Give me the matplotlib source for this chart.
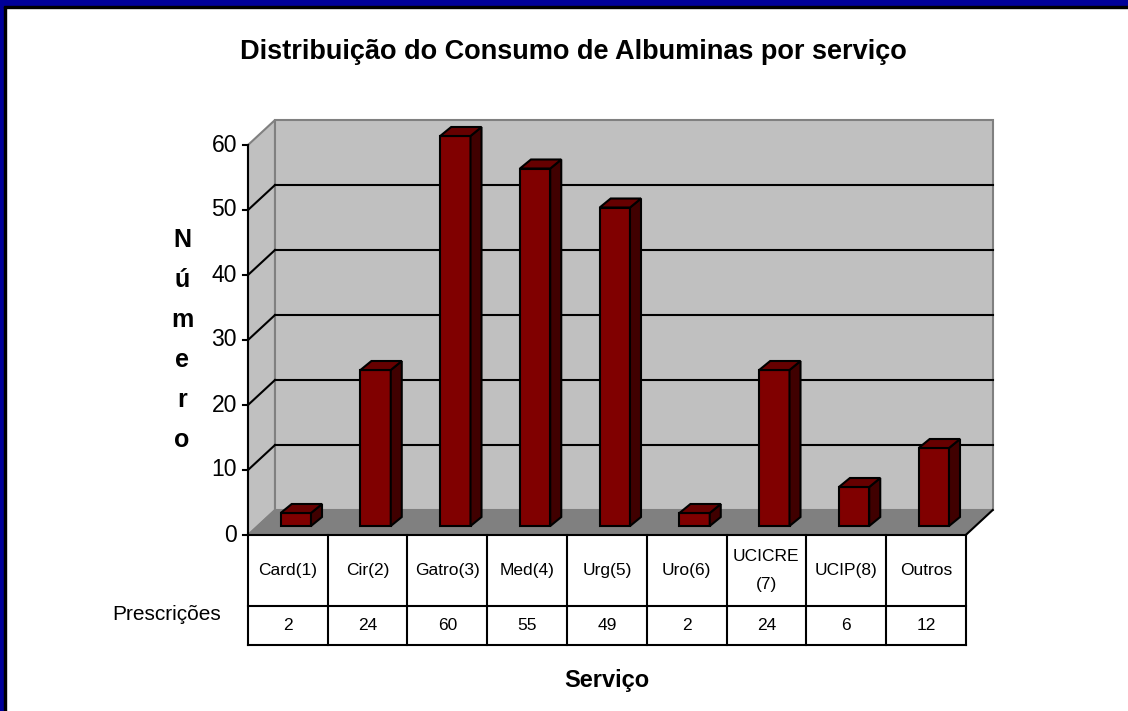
import matplotlib
matplotlib.use('Agg')
import matplotlib.pyplot as plt
from matplotlib.patches import Polygon, Rectangle

plt.rcParams['font.family'] = ['Liberation Sans', 'DejaVu Sans']

# dados do grafico
servicos = ['Card(1)', 'Cir(2)', 'Gatro(3)', 'Med(4)', 'Urg(5)', 'Uro(6)',
            'UCICRE\n(7)', 'UCIP(8)', 'Outros']
prescricoes = [2, 24, 60, 55, 49, 2, 24, 6, 12]
y_ticks = [0, 10, 20, 30, 40, 50, 60]

titulo = 'Distribuição do Consumo de Albuminas por serviço'
eixo_y = 'Número'
eixo_x = 'Serviço'
linha_tabela = 'Prescrições'

# escala em pixeis (figura 1128x711)
W, H = 1128, 711
x0px, cat_px = 248, 79.75
y0px, unit_px = 535, 6.5
n = len(servicos)
ymax = max(y_ticks)

DX, DY = 27 / cat_px, 25 / unit_px      # profundidade das paredes
BZ = 9 / unit_px                        # base das barras
bdx, bdy = 11 / cat_px, 9 / unit_px     # profundidade das barras
bl, bw = 0.41, 0.38                     # posicao/largura da face frontal
row1 = -71 / unit_px
row2 = -110 / unit_px

fig = plt.figure(figsize=(W / 100, H / 100), dpi=100)
ax = fig.add_axes([0, 0, 1, 1])
ax.set_xlim(-x0px / cat_px, (W - x0px) / cat_px)
ax.set_ylim(-(H - y0px) / unit_px, y0px / unit_px)
ax.axis('off')

# moldura azul
fig.patches.append(Rectangle((0, 0), 4 / W, 1, transform=fig.transFigure,
                             color='#000099', zorder=10))
fig.patches.append(Rectangle((4 / W, 0), 2 / W, 1 - 6 / H, transform=fig.transFigure,
                             color='black', zorder=10))
fig.patches.append(Rectangle((0, 1 - 6 / H), 1, 6 / H, transform=fig.transFigure,
                             color='#000099', zorder=10))
fig.patches.append(Rectangle((4 / W, 1 - 7.5 / H), 1, 1.5 / H, transform=fig.transFigure,
                             color='black', zorder=10))

# paredes e chao
ax.add_patch(Polygon([(0, 0), (DX, DY), (DX, ymax + DY), (0, ymax)],
                     facecolor='#C0C0C0', edgecolor='#808080', lw=1.5, zorder=1))
ax.add_patch(Polygon([(DX, DY), (n + DX, DY), (n + DX, ymax + DY), (DX, ymax + DY)],
                     facecolor='#C0C0C0', edgecolor='#808080', lw=1.5, zorder=1))
ax.add_patch(Polygon([(0, 0), (n, 0), (n + DX, DY), (DX, DY)],
                     facecolor='#808080', edgecolor='none', zorder=1))
ax.plot([n, n + DX], [0, DY], color='black', lw=1.5, zorder=2)
ax.plot([0, DX], [0, DY], color='#808080', lw=1.2, zorder=2)

for t in y_ticks[1:-1]:
    ax.plot([DX, n + DX], [t + DY, t + DY], color='black', lw=1.5, zorder=2)
    ax.plot([0, DX], [t, t + DY], color='black', lw=1.5, zorder=2)

# eixo y
ax.plot([0, 0], [0, ymax], color='black', lw=1.5, zorder=3)
for t in y_ticks:
    ax.plot([-5 / cat_px, 0], [t, t], color='black', lw=1.5, zorder=3)
    ax.text(-11 / cat_px, t, str(t), ha='right', va='center', fontsize=16.5)

# barras 3D
for i, v in enumerate(prescricoes):
    xl, xr = i + bl, i + bl + bw
    ax.add_patch(Rectangle((xl, BZ), bw, v, facecolor='#800000',
                           edgecolor='black', lw=1.5, zorder=4))
    ax.add_patch(Polygon([(xr, BZ), (xr + bdx, BZ + bdy), (xr + bdx, BZ + v + bdy), (xr, BZ + v)],
                         facecolor='#400000', edgecolor='black', lw=1.5, zorder=4))
    ax.add_patch(Polygon([(xl, BZ + v), (xr, BZ + v), (xr + bdx, BZ + v + bdy), (xl + bdx, BZ + v + bdy)],
                         facecolor='#660000', edgecolor='black', lw=1.5, zorder=4))

# tabela de dados
for y in [0, row1, row2]:
    ax.plot([0, n], [y, y], color='black', lw=1.5, zorder=3)
for i in range(n + 1):
    ax.plot([i, i], [0, row2], color='black', lw=1.5, zorder=3)
for i, (s, v) in enumerate(zip(servicos, prescricoes)):
    ax.text(i + 0.5, row1 / 2, s, ha='center', va='center', fontsize=12.5,
            linespacing=2.1)
    ax.text(i + 0.5, (row1 + row2) / 2, str(v), ha='center', va='center', fontsize=12.5)
ax.text(-81 / cat_px, -80 / unit_px, linha_tabela, ha='center', va='center', fontsize=15)

# titulos
fig.text(573 / W, 1 - 52 / H, titulo, ha='center', va='center',
         fontsize=19.5, fontweight='bold')
fig.text(607 / W, 1 - 680 / H, eixo_x, ha='center', va='center',
         fontsize=17, fontweight='bold')
for k, ch in enumerate(eixo_y):
    fig.text(182 / W, 1 - (240 + 40 * k) / H, ch, ha='center', va='center',
             fontsize=18, fontweight='bold')

fig.savefig('out.png', dpi=100)
